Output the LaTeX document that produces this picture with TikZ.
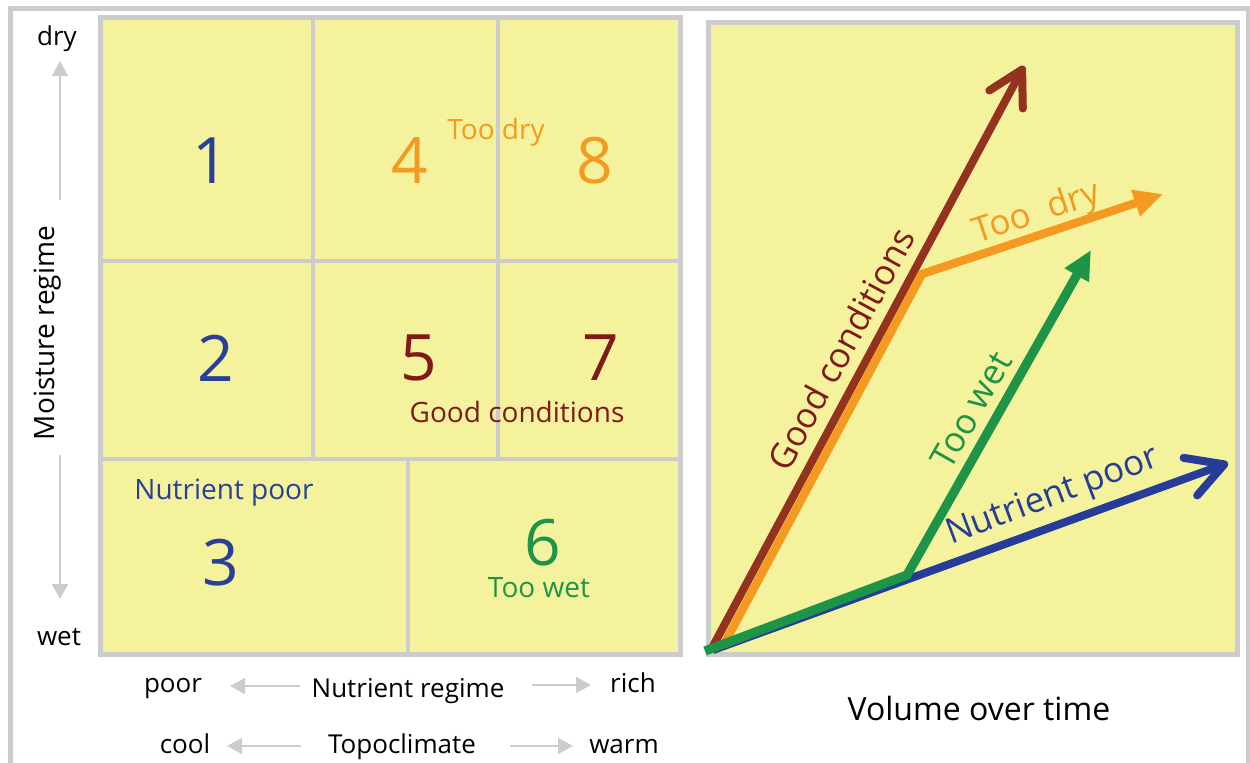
\documentclass[tikz,border=0pt]{standalone}
\usepackage{fontspec}
\setmainfont{Open Sans}
\usetikzlibrary{arrows.meta}
\definecolor{cellyellow}{RGB}{244,242,156}
\definecolor{framegray}{RGB}{204,204,204}
\definecolor{poorblue}{RGB}{40,64,152}
\definecolor{dryorange}{RGB}{244,154,33}
\definecolor{gooddark}{RGB}{128,26,26}
\definecolor{goodbrown}{RGB}{147,51,31}
\definecolor{wetgreen}{RGB}{30,148,72}
\definecolor{arrowblue}{RGB}{37,61,152}

\begin{document}
\begin{tikzpicture}[
    x=0.5pt, y=-0.5pt,
    panel/.style={draw=framegray, line width=2.5pt, fill=cellyellow},
    cellline/.style={draw=framegray, line width=2pt},
    axisarrow/.style={draw=framegray, line width=1pt, -{Triangle[length=7.5pt, width=8pt]}},
    lbl/.style={inner sep=0pt, anchor=base, font=\fontsize{13}{15}\selectfont},
    num/.style={inner sep=0pt, anchor=base, font=\fontsize{32}{36}\selectfont},
    cell/.style={inner sep=0pt, anchor=base, font=\fontsize{14}{17}\selectfont},
    tag/.style={inner sep=0pt, font=\fontsize{17.5}{20}\selectfont},
    thick line/.style={line width=#1, line cap=butt},
    barb/.style={-{Straight Barb[length=17pt, width=19pt, round]}},
    tri/.style={-{Triangle[length=14.5pt, width=13pt]}}
]
    \useasboundingbox (0,0) rectangle (1250,762);

    % 外框
    \draw[framegray, line width=2.5pt] (10,790) -- (10,8) -- (1248.5,8) -- (1248.5,790);

    % 1. 左面板与格线
    \path[panel] (100.5,17.5) rectangle (680.5,654.5);
    \draw[cellline] (313,17.5) -- (313,459);
    \draw[cellline] (498,17.5) -- (498,459);
    \draw[cellline] (100.5,261) -- (680.5,261);
    \draw[cellline] (100.5,459) -- (680.5,459);
    \draw[cellline] (408,459) -- (408,654.5);

    % 2. 格子编号与标签
    \node[num, poorblue] (n1) at (211,183) {1};
    \node[num, dryorange] (n4) at (410,183) {4};
    \node[num, dryorange] (n8) at (595,183) {8};
    \node[cell, dryorange] (dryL) at (496,139) {Too dry};
    \node[num, poorblue] (n2) at (216,381) {2};
    \node[num, gooddark] (n5) at (419,380) {5};
    \node[num, gooddark] (n7) at (601,380) {7};
    \node[cell, gooddark] (goodL) at (517,422) {Good conditions};
    \node[cell, poorblue] (poorL) at (224,499) {Nutrient poor};
    \node[num, poorblue] (n3) at (221,585) {3};
    \node[num, wetgreen] (n6) at (543,565) {6};
    \node[cell, wetgreen] (wetL) at (539,597) {Too wet};

    % 3. 纵轴 (湿度)
    \node[lbl] (dry) at (57,45) {dry};
    \node[lbl] (wet) at (59,645) {wet};
    \node[lbl, anchor=center, rotate=90, font=\fontsize{14}{17}\selectfont] (moist) at (48,333) {Moisture regime};
    \coordinate (upS) at (60,200);
    \coordinate (upE) at (60,61);
    \coordinate (dnS) at (60,455);
    \coordinate (dnE) at (60,599);
    \draw[axisarrow] (upS) -- (upE);
    \draw[axisarrow] (dnS) -- (dnE);

    % 4. 横轴 (养分, 气候)
    \node[lbl] (poor) at (173,692) {poor};
    \node[lbl] (nreg) at (408,697) {Nutrient regime};
    \node[lbl] (rich) at (633,692) {rich};
    \node[lbl] (cool) at (185,753) {cool};
    \node[lbl] (topo) at (402,753) {Topoclimate};
    \node[lbl] (warm) at (624,753) {warm};
    \coordinate (nlS) at (300,686);
    \coordinate (nlE) at (230,686);
    \coordinate (nrS) at (532,685);
    \coordinate (nrE) at (591,685);
    \coordinate (tlS) at (301,746);
    \coordinate (tlE) at (227,746);
    \coordinate (trS) at (510,746);
    \coordinate (trE) at (573,746);
    \draw[axisarrow] (nlS) -- (nlE);
    \draw[axisarrow] (nrS) -- (nrE);
    \draw[axisarrow] (tlS) -- (tlE);
    \draw[axisarrow] (trS) -- (trE);

    % 5. 右面板
    \path[panel] (708.5,22) rectangle (1237,654.5);
    \node[inner sep=0pt, anchor=base, font=\fontsize{16}{19}\selectfont] (vol) at (979,720) {Volume over time};

    % 6. 生长曲线 (箭头)
    \coordinate (gS) at (712,648);
    \coordinate (gE) at (1024,66);
    \coordinate (dS) at (722,648);
    \coordinate (dK) at (922,274);
    \coordinate (dE) at (1163,194);
    \coordinate (pS) at (713,650);
    \coordinate (pE) at (1228,463);
    \coordinate (wS) at (705,651);
    \coordinate (wK) at (907,575);
    \coordinate (wE) at (1091,250);
    \draw[goodbrown, thick line=4pt, barb] (gS) -- (gE);
    \draw[dryorange, thick line=4.2pt, tri] (dS) -- (dK) -- (dE);
    \draw[arrowblue, thick line=4pt, -{Straight Barb[length=18pt, width=20pt, round]}] (pS) -- (pE);
    \draw[wetgreen, thick line=4.6pt, tri] (wS) -- (wK) -- (wE);

    % 7. 曲线标签
    \node[tag, gooddark, rotate=61.6] (goodR) at (841,349) {Good conditions};
    \node[tag, dryorange, rotate=18.4] (dryR) at (1037,214) {Too\ \ dry};
    \node[tag, wetgreen, rotate=60.5] (wetR) at (971,410) {Too wet};
    \node[tag, arrowblue, rotate=20.5] (poorR) at (1053,497) {Nutrient poor};

\end{tikzpicture}
\end{document}
